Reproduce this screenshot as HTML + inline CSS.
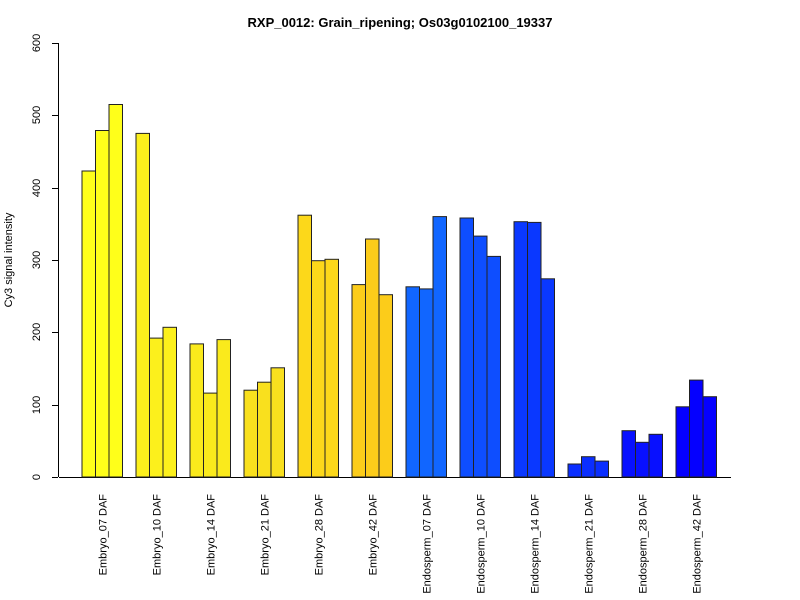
<!DOCTYPE html>
<html><head><style>body{margin:0;background:#fff}svg{display:block}</style></head><body>
<svg width="800" height="600" xmlns="http://www.w3.org/2000/svg" font-family="Liberation Sans, sans-serif">
<rect width="800" height="600" fill="#fff"/>
<text x="400" y="27" text-anchor="middle" font-weight="bold" font-size="13">RXP_0012: Grain_ripening; Os03g0102100_19337</text>
<text transform="translate(12,260) rotate(-90)" text-anchor="middle" font-size="11">Cy3 signal intensity</text>
<g stroke="#000" stroke-width="1">
<line x1="58.5" y1="43" x2="58.5" y2="477"/>
<line x1="52" y1="477.5" x2="58" y2="477.5"/>
<line x1="52" y1="405.5" x2="58" y2="405.5"/>
<line x1="52" y1="332.5" x2="58" y2="332.5"/>
<line x1="52" y1="260.5" x2="58" y2="260.5"/>
<line x1="52" y1="188.5" x2="58" y2="188.5"/>
<line x1="52" y1="115.5" x2="58" y2="115.5"/>
<line x1="52" y1="43.5" x2="58" y2="43.5"/>
<line x1="59" y1="477.5" x2="731" y2="477.5"/>
</g>
<g font-size="11" text-anchor="middle" fill="#000">
<text transform="translate(40,477) rotate(-90)">0</text>
<text transform="translate(40,405) rotate(-90)">100</text>
<text transform="translate(40,332) rotate(-90)">200</text>
<text transform="translate(40,260) rotate(-90)">300</text>
<text transform="translate(40,188) rotate(-90)">400</text>
<text transform="translate(40,115) rotate(-90)">500</text>
<text transform="translate(40,43) rotate(-90)">600</text>
</g>
<g stroke="#222" stroke-width="1">
<g fill="#FFFF1A">
<rect x="82" y="171.0" width="13.5" height="306.0"/><rect x="95.5" y="130.5" width="13.5" height="346.5"/><rect x="109" y="104.5" width="13.5" height="372.5"/></g>
<g fill="#FCF01C">
<rect x="136" y="133.4" width="13.5" height="343.6"/><rect x="149.5" y="338.1" width="13.5" height="138.9"/><rect x="163" y="327.3" width="13.5" height="149.7"/></g>
<g fill="#FAEA1C">
<rect x="190" y="343.9" width="13.5" height="133.1"/><rect x="203.5" y="393.1" width="13.5" height="83.9"/><rect x="217" y="339.6" width="13.5" height="137.4"/></g>
<g fill="#F9E01E">
<rect x="244" y="390.2" width="13.5" height="86.8"/><rect x="257.5" y="382.2" width="13.5" height="94.8"/><rect x="271" y="367.8" width="13.5" height="109.2"/></g>
<g fill="#FCD81A">
<rect x="298" y="215.2" width="13.5" height="261.8"/><rect x="311.5" y="260.7" width="13.5" height="216.3"/><rect x="325" y="259.3" width="13.5" height="217.7"/></g>
<g fill="#FCCC1A">
<rect x="352" y="284.6" width="13.5" height="192.4"/><rect x="365.5" y="239.0" width="13.5" height="238.0"/><rect x="379" y="294.7" width="13.5" height="182.3"/></g>
<g fill="#1166FF">
<rect x="406" y="286.8" width="13.5" height="190.2"/><rect x="419.5" y="288.9" width="13.5" height="188.1"/><rect x="433" y="216.6" width="13.5" height="260.4"/></g>
<g fill="#0E4EFF">
<rect x="460" y="218.0" width="13.5" height="259.0"/><rect x="473.5" y="236.1" width="13.5" height="240.9"/><rect x="487" y="256.4" width="13.5" height="220.6"/></g>
<g fill="#0A38FF">
<rect x="514" y="221.7" width="13.5" height="255.3"/><rect x="527.5" y="222.4" width="13.5" height="254.6"/><rect x="541" y="278.8" width="13.5" height="198.2"/></g>
<g fill="#0A2EFF">
<rect x="568" y="464.0" width="13.5" height="13.0"/><rect x="581.5" y="456.7" width="13.5" height="20.3"/><rect x="595" y="461.1" width="13.5" height="15.9"/></g>
<g fill="#0810FF">
<rect x="622" y="430.7" width="13.5" height="46.3"/><rect x="635.5" y="442.3" width="13.5" height="34.7"/><rect x="649" y="434.3" width="13.5" height="42.7"/></g>
<g fill="#0500FF">
<rect x="676" y="406.8" width="13.5" height="70.2"/><rect x="689.5" y="380.1" width="13.5" height="96.9"/><rect x="703" y="396.7" width="13.5" height="80.3"/></g>
</g>
<g font-size="11" text-anchor="end" fill="#000">
<text transform="translate(106.7,494) rotate(-90)">Embryo_07 DAF</text>
<text transform="translate(160.7,494) rotate(-90)">Embryo_10 DAF</text>
<text transform="translate(214.7,494) rotate(-90)">Embryo_14 DAF</text>
<text transform="translate(268.7,494) rotate(-90)">Embryo_21 DAF</text>
<text transform="translate(322.7,494) rotate(-90)">Embryo_28 DAF</text>
<text transform="translate(376.7,494) rotate(-90)">Embryo_42 DAF</text>
<text transform="translate(430.7,494) rotate(-90)">Endosperm_07 DAF</text>
<text transform="translate(484.7,494) rotate(-90)">Endosperm_10 DAF</text>
<text transform="translate(538.7,494) rotate(-90)">Endosperm_14 DAF</text>
<text transform="translate(592.7,494) rotate(-90)">Endosperm_21 DAF</text>
<text transform="translate(646.7,494) rotate(-90)">Endosperm_28 DAF</text>
<text transform="translate(700.7,494) rotate(-90)">Endosperm_42 DAF</text>
</g>
</svg>
</body></html>
